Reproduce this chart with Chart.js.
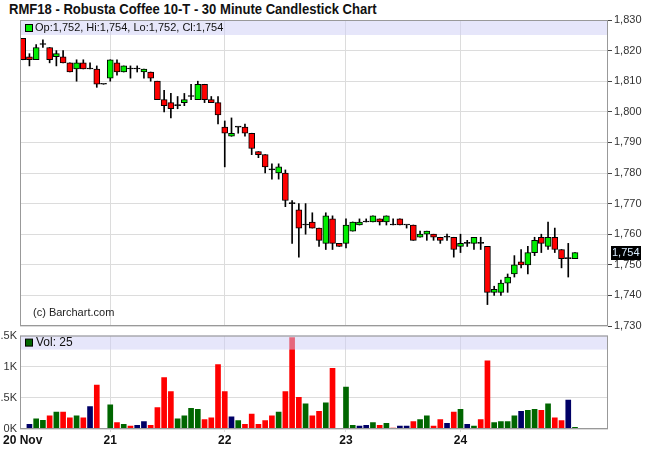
<!DOCTYPE html>
<html>
<head>
<meta charset="utf-8">
<script src="https://cdn.jsdelivr.net/npm/chart.js@4.4.1/dist/chart.umd.min.js"></script>
<style>
  html, body { margin: 0; padding: 0; background: #fff; }
  #wrap { position: relative; width: 650px; height: 470px; overflow: hidden; }
  #title { position: absolute; left: 9px; top: 0; font: bold 15px "Liberation Sans Narrow", "Liberation Sans", Arial, sans-serif; line-height: 18px; color: #111; white-space: nowrap; transform: scaleX(0.87); transform-origin: 0 0; }
  canvas { position: absolute; left: 0; }
  #price { top: 0; }
  #vol { top: 326px; }
</style>
</head>
<body>
<div id="wrap">
  <div id="title">RMF18 - Robusta Coffee 10-T - 30 Minute Candlestick Chart</div>
  <canvas id="price" width="650" height="336"></canvas>
  <canvas id="vol" width="650" height="124"></canvas>
</div>
<script>
// 30 minute bars, 20 Nov .. 24 Nov
const dayStarts = [0, 13, 30, 48, 65];
const dayLabels = ["20 Nov", "21", "22", "23", "24"];

const opens = [1824, 1818, 1817, 1822, 1821, 1818, 1818, 1816, 1814, 1816, 1814, 1814, 1809,
  1811, 1816, 1813, 1814, 1814, 1813, 1813, 1810, 1804, 1803, 1802, 1803, 1805, 1804, 1809, 1804, 1803,
  1795, 1792, 1795, 1795, 1793, 1787, 1786, 1781, 1780, 1780, 1770, 1768, 1763, 1764, 1762, 1757, 1765, 1757,
  1757, 1761, 1763, 1764, 1764, 1765, 1764, 1763, 1765, 1763, 1763, 1759, 1760, 1760, 1759, 1759, 1759,
  1756, 1757, 1757, 1757, 1756, 1741, 1741, 1744, 1747, 1751, 1750, 1754, 1759, 1756, 1759, 1755, 1752, 1752];
const highs = [1824, 1819, 1822, 1823.5, 1821, 1820, 1820, 1816, 1817, 1817, 1816, 1815, 1809,
  1817, 1817, 1815, 1815, 1815, 1814, 1813, 1810, 1807, 1806, 1805, 1806, 1809, 1810, 1809, 1805, 1805,
  1797, 1798, 1795, 1796, 1793, 1787, 1786, 1783, 1783, 1781, 1771, 1770, 1770, 1767, 1762, 1767, 1766, 1757,
  1765, 1764, 1765, 1765, 1766, 1765, 1766, 1765, 1765, 1763, 1763, 1761, 1761, 1760, 1759, 1760, 1759,
  1760, 1758, 1759, 1759, 1756, 1743, 1745, 1747, 1753, 1755, 1756, 1759, 1760, 1764, 1762, 1755, 1757, 1754];
const lows = [1817, 1815, 1817, 1821, 1816, 1815, 1816, 1813, 1810, 1814, 1814, 1808, 1809,
  1810, 1812, 1813, 1811, 1813, 1811, 1810, 1804, 1800, 1798, 1801, 1802, 1804, 1804, 1803, 1803, 1796,
  1782, 1792, 1793, 1792, 1786, 1785, 1780, 1778, 1778, 1769, 1757, 1752.5, 1760, 1762, 1756, 1755, 1755, 1756,
  1755.5, 1761, 1763, 1764, 1764, 1763, 1763, 1763, 1763, 1762, 1758, 1759, 1758, 1758, 1757, 1758, 1752.5,
  1754, 1756, 1755, 1755, 1737, 1740, 1740, 1741, 1746, 1749, 1747, 1753, 1754, 1755, 1754, 1749, 1746, 1752];
const closes = [1817, 1817, 1821, 1822, 1817, 1819, 1816, 1813, 1816, 1814, 1814, 1809, 1809,
  1817, 1813, 1815, 1814, 1814, 1814, 1811, 1804, 1802, 1801, 1802, 1804, 1805, 1809, 1804, 1803, 1799,
  1793, 1793, 1795, 1793, 1788, 1786, 1782, 1781, 1782, 1771, 1770, 1762, 1763, 1762, 1758, 1766, 1757, 1756,
  1763, 1764, 1764, 1764, 1766, 1764, 1766, 1763, 1763, 1763, 1758, 1760, 1761, 1759, 1758, 1759, 1755,
  1757, 1757, 1759, 1757, 1741, 1742, 1744, 1746, 1750, 1750, 1754, 1758, 1757, 1759, 1755, 1752, 1752, 1754];

const volumes = [0, 75, 165, 140, 210, 270, 270, 180, 210, 180, 360, 705, 0,
  390, 105, 75, 45, 60, 120, 60, 345, 825, 600, 165, 210, 330, 315, 150, 180, 1035,
  600, 195, 135, 75, 240, 75, 135, 210, 270, 600, 1470, 510, 405, 210, 285, 420, 975, 0,
  675, 60, 45, 60, 105, 60, 90, 15, 45, 45, 120, 150, 210, 45, 150, 90, 270,
  315, 75, 45, 150, 1095, 105, 120, 120, 210, 285, 300, 315, 300, 405, 180, 135, 465, 25];
// 1 = up, -1 = down, 0 = unchanged
const volDir = [0, 0, 1, 1, -1, 1, -1, -1, 1, -1, 0, -1, 0,
  1, -1, 1, -1, 0, 0, -1, -1, -1, -1, 1, 1, 1, 1, -1, -1, -1,
  -1, 0, 1, -1, -1, -1, -1, -1, 1, -1, -1, -1, 1, -1, -1, 1, -1, 0,
  1, 1, 0, 0, 1, -1, 1, -1, 0, 0, -1, 1, 1, -1, -1, 0, -1,
  1, 0, 1, -1, -1, 1, 1, 1, 1, 0, 1, 1, -1, 1, -1, -1, 0, 1];

const FONT = '"Liberation Sans", Arial, sans-serif';
Chart.defaults.font.family = FONT;

const fmt = v => v.toLocaleString("en-US");
const idx = closes.map((_, i) => i);
const last = closes.length - 1;
const GRID = "#dcdcdc";
const BAND = "rgba(205,205,245,0.5)";

const bodyColors = idx.map(i => closes[i] > opens[i] ? "#00ee00" : closes[i] < opens[i] ? "#ff0000" : "#000");
const volColors = volDir.map(d => d > 0 ? "#006600" : d < 0 ? "#ff0000" : "#000066");

const makeX = (showLabels, height) => ({
  type: "linear",
  min: -0.4,
  max: 86.9,
  offset: false,
  afterBuildTicks: s => { s.ticks = dayStarts.map(v => ({ value: v })); },
  ticks: {
    display: showLabels, autoSkip: false, maxRotation: 0, padding: 1, color: "#111",
    font: { size: 12, weight: "bold" },
    callback: v => dayLabels[dayStarts.indexOf(v)]
  },
  grid: {
    offset: false,
    color: c => (c.tick && c.tick.value === 0) ? "rgba(0,0,0,0)" : GRID,
    tickColor: c => (c.tick && c.tick.value === 0) ? "rgba(0,0,0,0)" : GRID,
    drawTicks: showLabels, tickLength: 3
  },
  border: { display: false },
  afterFit: s => { s.height = height; }
});

const frame = (ctx, a) => {
  ctx.strokeStyle = "#999";
  ctx.lineWidth = 1;
  ctx.strokeRect(a.left + 0.5, a.top + 0.5, a.right - a.left - 1, a.bottom - a.top - 1);
};

const priceDecor = {
  id: "priceDecor",
  afterDatasetsDraw(chart) {
    const { ctx, chartArea: a } = chart;
    ctx.save();
    ctx.fillStyle = BAND;
    ctx.fillRect(a.left, a.top, a.right - a.left, 15);
    ctx.fillStyle = "#00ee00";
    ctx.fillRect(a.left + 5.5, a.top + 4.5, 7, 7);
    ctx.strokeStyle = "#000";
    ctx.strokeRect(a.left + 5.5, a.top + 4.5, 7, 7);
    ctx.fillStyle = "#111";
    ctx.font = "11px " + FONT;
    ctx.textBaseline = "middle";
    ctx.fillText(`Op:${fmt(opens[last])}, Hi:${fmt(highs[last])}, Lo:${fmt(lows[last])}, Cl:${fmt(closes[last])}`, a.left + 15, a.top + 8);
    ctx.fillStyle = "#222";
    ctx.fillText("(c) Barchart.com", a.left + 13, a.bottom - 13);
    frame(ctx, a);
    const y = Math.round(chart.scales.y.getPixelForValue(closes[last]));
    ctx.fillStyle = "#000";
    ctx.fillRect(a.right + 3, y - 7, 30, 14);
    ctx.fillStyle = "#d8ecff";
    ctx.fillText(fmt(closes[last]), a.right + 4, y);
    ctx.restore();
  }
};

const volDecor = {
  id: "volDecor",
  afterDatasetsDraw(chart) {
    const { ctx, chartArea: a } = chart;
    ctx.save();
    ctx.fillStyle = BAND;
    ctx.fillRect(a.left, a.top, a.right - a.left, 14);
    ctx.fillStyle = "#006600";
    ctx.fillRect(a.left + 5.5, a.top + 3.5, 7, 7);
    ctx.strokeStyle = "#000";
    ctx.strokeRect(a.left + 5.5, a.top + 3.5, 7, 7);
    ctx.fillStyle = "#111";
    ctx.font = "12px " + FONT;
    ctx.textBaseline = "middle";
    ctx.fillText("Vol: " + volumes[last], a.left + 16, a.top + 7.5);
    frame(ctx, a);
    ctx.restore();
  }
};

new Chart(document.getElementById("price"), {
  type: "bar",
  data: {
    datasets: [
      {
        data: idx.map(i => ({ x: i, y: [lows[i], highs[i]] })),
        backgroundColor: "#000",
        barThickness: 1,
        grouped: false,
        order: 2
      },
      {
        data: idx.map(i => ({ x: i, y: [opens[i], closes[i]] })),
        backgroundColor: bodyColors,
        borderColor: "#000",
        borderWidth: 1,
        borderSkipped: false,
        barThickness: 6,
        minBarLength: 1,
        grouped: false,
        order: 1
      }
    ]
  },
  options: {
    responsive: false,
    animation: false,
    events: [],
    layout: { padding: { top: 20, left: 20, right: 0, bottom: 0 } },
    plugins: { legend: { display: false }, tooltip: { enabled: false } },
    scales: {
      x: makeX(false, 10),
      y: {
        position: "right",
        min: 1730,
        max: 1830,
        ticks: { stepSize: 10, color: "#333", padding: 2, font: { size: 11 }, callback: v => fmt(v) },
        grid: { color: GRID, tickLength: 4, tickColor: "#444" },
        border: { display: false },
        afterFit: s => { s.width = 42; s.paddingTop = 0; s.paddingBottom = 0; }
      }
    }
  },
  plugins: [priceDecor]
});

new Chart(document.getElementById("vol"), {
  type: "bar",
  data: {
    datasets: [{
      data: idx.map(i => ({ x: i, y: volumes[i] })),
      backgroundColor: volColors,
      barThickness: 5,
      grouped: false
    }]
  },
  options: {
    responsive: false,
    animation: false,
    events: [],
    layout: { padding: { top: 4, left: 0, right: 42, bottom: 0 } },
    plugins: { legend: { display: false }, tooltip: { enabled: false } },
    scales: {
      x: makeX(true, 21),
      y: {
        position: "left",
        min: 0,
        max: 1500,
        ticks: { stepSize: 500, color: "#333", padding: 3, font: { size: 11 }, callback: v => (v / 1000) + "K" },
        grid: { color: GRID, drawTicks: false },
        border: { display: false },
        afterFit: s => { s.width = 20; }
      }
    }
  },
  plugins: [volDecor]
});
</script>
</body>
</html>
